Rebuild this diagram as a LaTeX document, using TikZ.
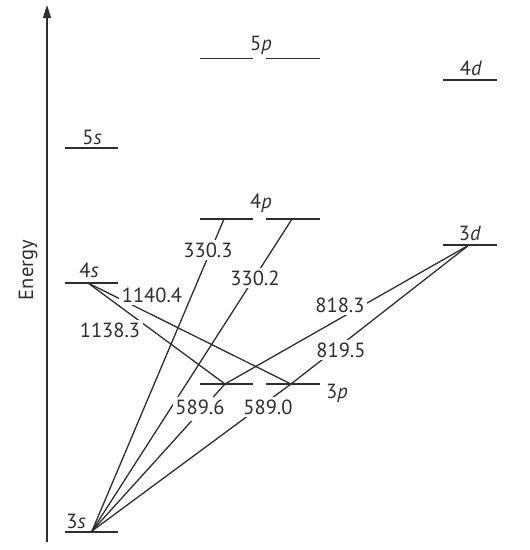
\documentclass[tikz,border=0pt]{standalone}
\usepackage{fontspec}
\setmainfont{PT Sans}
\usetikzlibrary{arrows.meta}
\definecolor{ink}{HTML}{2E2E2E}
\begin{document}
\begin{tikzpicture}[x=1pt,y=-1pt,
  levelline/.style={draw=ink, line width=1.6pt},
  trans/.style={draw=ink, line width=1.3pt},
  lvl/.style={text=ink, font=\fontsize{20.5}{24}\selectfont, anchor=base, inner sep=0pt},
  num/.style={text=ink, font=\fontsize{20.5}{24}\selectfont, fill=white, inner sep=2.5pt}]
\useasboundingbox (0,0) rectangle (530,550);
% axis
\coordinate (axb) at (47,542);
\coordinate (axt) at (47,5);
\draw[draw=ink, line width=1.4pt, -{Triangle[length=13pt,width=8pt]}] (axb) -- (axt);
\node[text=ink, font=\fontsize{20.5}{24}\selectfont, rotate=90, anchor=base, inner sep=0pt] (energy) at (33,270) {Energy};
% transition points
\coordinate (s3) at (92,531);
\coordinate (s4) at (88,283);
\coordinate (p3a) at (225,384);
\coordinate (p3b) at (291,384);
\coordinate (p4a) at (224,219);
\coordinate (p4b) at (292,219);
\coordinate (d3) at (469,245);
% transitions
\draw[trans] (s3) -- (p4a);
\draw[trans] (s3) -- (p4b);
\draw[trans] (s3) -- (p3a);
\draw[trans] (s3) -- (p3b);
\draw[trans] (d3) -- (p3a);
\draw[trans] (d3) -- (p3b);
\draw[trans] (s4) -- (p3a);
\draw[trans] (s4) -- (p3b);
% wavelength labels
\node[num] (w3303) at (208,250) {330.3};
\node[num] (w3302) at (255,278) {330.2};
\node[num] (w11404) at (152,295.5) {1140.4};
\node[num] (w11383) at (110,330) {1138.3};
\node[num] (w8183) at (340,305) {818.3};
\node[num] (w8195) at (341,350) {819.5};
\node[num, text depth=4pt] (w5896) at (200,409) {589.6};
\node[num] (w5890) at (268,407) {589.0};
% levels
\draw[levelline] (65,532) -- (118,532);
\draw[levelline] (65,283) -- (118,283);
\draw[levelline] (65,148) -- (118,148);
\draw[levelline] (200,384) -- (253,384);
\draw[levelline] (266,384) -- (320,384);
\draw[levelline] (200,219) -- (253,219);
\draw[levelline] (266,219) -- (320,219);
\draw[levelline] (200,58.5) -- (253,58.5);
\draw[levelline] (266,58.5) -- (320,58.5);
\draw[levelline] (443,245) -- (497,245);
\draw[levelline] (443,80) -- (497,80);
% level labels
\node[lvl] (l3s) at (76,528) {3\textit{s}};
\node[lvl] (l4s) at (89,277) {4\textit{s}};
\node[lvl] (l5s) at (92,144) {5\textit{s}};
\node[lvl] (l3p) at (337,398) {3\textit{p}};
\node[lvl] (l4p) at (261,208) {4\textit{p}};
\node[lvl] (l5p) at (261,50) {5\textit{p}};
\node[lvl] (l3d) at (470,240) {3\textit{d}};
\node[lvl] (l4d) at (471,75) {4\textit{d}};
\end{tikzpicture}
\end{document}
